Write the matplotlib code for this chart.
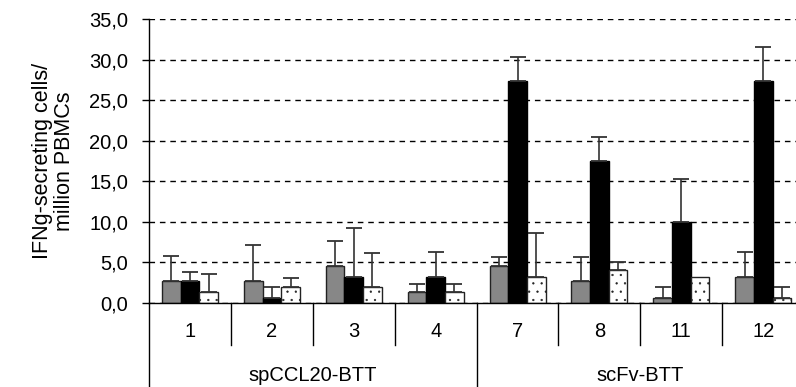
import numpy as np
import matplotlib

matplotlib.use("Agg")
import matplotlib.pyplot as plt
import matplotlib.transforms as mtransforms

plt.rcParams["font.family"] = ["Liberation Sans", "DejaVu Sans"]
plt.rcParams["hatch.linewidth"] = 0.4

# data
categories = ["1", "2", "3", "4", "7", "8", "11", "12"]
groups = ["spCCL20-BTT", "scFv-BTT"]
group_sizes = [4, 4]

gray_vals = [2.75, 2.75, 4.55, 1.35, 4.5, 2.7, 0.6, 3.2]
gray_sd = [3.0, 4.45, 3.15, 1.05, 1.2, 3.0, 1.35, 3.1]
black_vals = [2.75, 0.6, 3.2, 3.2, 27.4, 17.45, 9.95, 27.4]
black_sd = [1.05, 1.35, 6.0, 3.1, 2.95, 3.0, 5.35, 4.15]
dot_vals = [1.35, 1.95, 1.95, 1.35, 3.2, 4.05, 3.2, 0.6]
dot_sd = [2.25, 1.1, 4.2, 1.05, 5.4, 1.05, 0.0, 1.35]

W, H = 796, 387
fig = plt.figure(figsize=(W / 100, H / 100), dpi=100)
ax = fig.add_axes([149 / W, 1 - 303 / H, 1 - 149 / W, 284 / H])

x = np.arange(len(categories))
w = 0.228
series = [
    (gray_vals, gray_sd, -w, dict(color="#878787", edgecolor="#222222")),
    (black_vals, black_sd, 0.0, dict(color="black", edgecolor="black")),
    (dot_vals, dot_sd, w, dict(color="white", edgecolor="#222222", hatch="..")),
]
for vals, sd, off, style in series:
    vals = np.asarray(vals)
    sd = np.asarray(sd)
    ax.bar(x + off, vals, width=w, linewidth=1.0, zorder=2, **style)
    m = sd > 0
    ax.errorbar(x[m] + off, vals[m], yerr=[np.zeros(m.sum()), sd[m]], fmt="none",
                ecolor="#333333", elinewidth=1.2, capsize=6, capthick=1.3, zorder=3)

ax.set_ylim(0, 35)
ax.set_xlim(-0.5, 7.4)
ax.set_yticks(np.arange(0, 36, 5))
ax.set_yticklabels([f"{v:.1f}".replace(".", ",") for v in np.arange(0, 36, 5)], fontsize=14.5)
ax.tick_params(axis="y", length=5, width=1, pad=10, direction="out")
ax.set_xticks([])
ax.yaxis.grid(True, linestyle=(0, (4, 3.5)), color="black", linewidth=1)
ax.set_axisbelow(True)
for s in ["top", "right"]:
    ax.spines[s].set_visible(False)
ax.spines["left"].set_linewidth(1)
ax.spines["bottom"].set_linewidth(1)

ax.set_ylabel("IFNg-secreting cells/\nmillion PBMCs", fontsize=15.5, labelpad=10, linespacing=1.05)

trans = mtransforms.blended_transform_factory(ax.transData, ax.transAxes)
# category dividers and labels
bounds = np.cumsum(group_sizes)
for i in range(1, len(categories)):
    if i in bounds:
        continue
    ax.plot([i - 0.5, i - 0.5], [0, -0.148], color="black", lw=1, transform=trans, clip_on=False)
for i, lab in enumerate(categories):
    ax.text(i, -0.102, lab, transform=trans, ha="center", va="center", fontsize=14.5)

# group dividers and labels
start = 0
for g, n in zip(groups, group_sizes):
    ax.plot([start - 0.5, start - 0.5], [0, -0.3], color="black", lw=1, transform=trans, clip_on=False)
    ax.text(start + (n - 1) / 2, -0.254, g, transform=trans, ha="center", va="center", fontsize=14.5)
    start += n

fig.savefig("out.png", dpi=100)
